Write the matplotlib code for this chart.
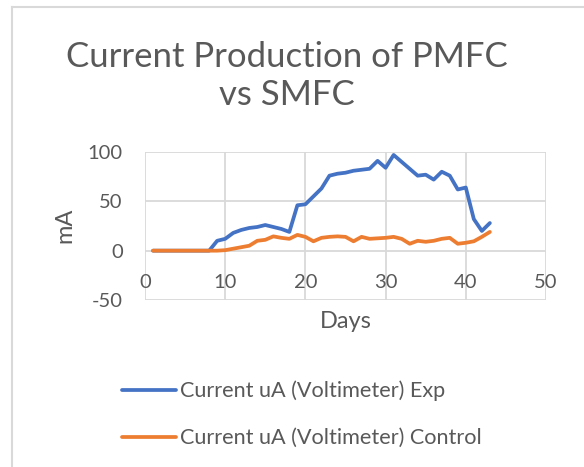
import matplotlib
matplotlib.use('Agg')
import matplotlib.pyplot as plt
from matplotlib.lines import Line2D

plt.rcParams['font.family'] = ['Lato', 'DejaVu Sans']
plt.rcParams['axes.unicode_minus'] = False

days = list(range(1, 44))
exp_current = [0, 0, 0, 0, 0, 0, 0, 0, 10, 12,
               18, 21, 23, 24, 26, 24, 22, 19, 46, 47,
               55, 63, 76, 78, 79, 81, 82, 83, 91, 84,
               97, 90, 83, 76, 77, 72, 80, 76, 62, 64,
               32, 20, 28]
control_current = [0, 0, 0, 0, 0, 0, 0, 0, 0, 0.5,
                   2, 3.5, 5, 10, 11, 14.5, 13, 12, 16, 14,
                   9.5, 13, 14, 14.5, 14, 9.5, 14, 12, 12.5, 13,
                   14, 12, 7, 10, 9, 10, 12, 13, 7, 8,
                   9.5, 14, 19]
x_ticks = [0, 10, 20, 30, 40, 50]
y_ticks = [-50, 0, 50, 100]

text_color = '#595959'
grid_color = '#d9d9d9'

fig = plt.figure(figsize=(5.84, 4.67), dpi=100)
ax = fig.add_axes([145 / 584, 1 - 300 / 467, 401 / 584, 148 / 467])

ax.plot(days, exp_current, color='#4472C4', lw=2.7, solid_capstyle='round',
        solid_joinstyle='round', label='Current uA (Voltimeter) Exp')
ax.plot(days, control_current, color='#ED7D31', lw=2.7, solid_capstyle='round',
        solid_joinstyle='round', label='Current uA (Voltimeter) Control')

ax.set_xlim(0, 50)
ax.set_ylim(-50, 100)
ax.set_xticks(x_ticks)
ax.set_yticks(y_ticks)
ax.grid(True, color=grid_color, lw=1.3)
ax.set_axisbelow(True)
for s in ax.spines.values():
    s.set_visible(False)
ax.tick_params(axis='both', length=0, labelsize=14.5, labelcolor=text_color)
ax.tick_params(axis='y', pad=16)
# x labels sit just under the zero line, like Excel
ax.set_xticklabels([])
for t in x_ticks:
    ax.text(t, -32, str(t), ha='center', va='center', fontsize=14.5, color=text_color)

fig.text(346 / 584, 1 - 322 / 467, 'Days', ha='center', va='center', fontsize=17, color=text_color)
fig.text(65 / 584, 1 - 225 / 467, 'mA', ha='center', va='center', rotation=90,
         fontsize=17, color=text_color)

fig.text(287 / 584, 1 - 76 / 467, 'Current Production of PMFC\nvs SMFC', ha='center', va='center',
         fontsize=25, color=text_color, linespacing=1.25)

fig.legend(loc='upper left', bbox_to_anchor=(102 / 584, 1 - 361 / 467), frameon=False,
           fontsize=15.6, labelcolor=text_color, handlelength=2.5, handletextpad=0.18,
           labelspacing=1.25)

# chart area border (top and left edges visible)
fig.add_artist(Line2D([12 / 584, 12 / 584], [0, 1 - 7 / 467], transform=fig.transFigure,
                      color=grid_color, lw=1.5))
fig.add_artist(Line2D([12 / 584, 1], [1 - 7 / 467, 1 - 7 / 467], transform=fig.transFigure,
                      color=grid_color, lw=1.5))

plt.savefig('out.png', dpi=100)
plt.close()
